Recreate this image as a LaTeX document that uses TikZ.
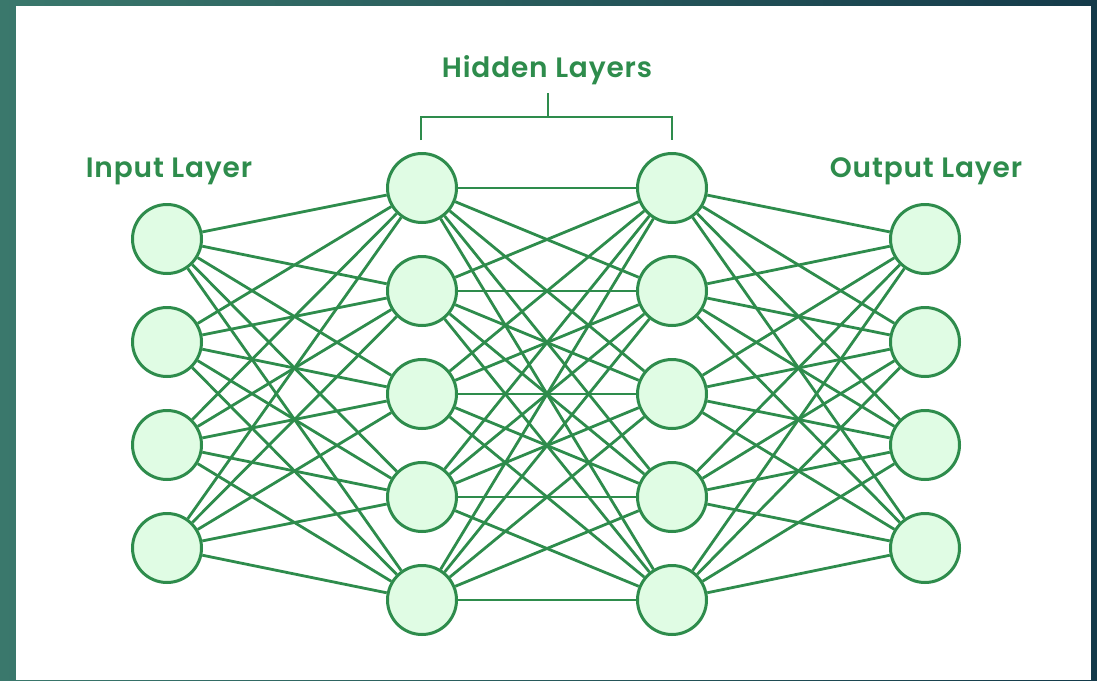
\documentclass[tikz,border=0pt]{standalone}
\usepackage{fontspec}
\setmainfont{Poppins}[UprightFont=* SemiBold,LetterSpace=3]
\definecolor{gline}{RGB}{46,140,76}
\definecolor{gfill}{RGB}{224,252,228}
\definecolor{bgL}{RGB}{58,120,108}
\definecolor{bgR}{RGB}{20,58,74}
\tikzset{
  neuron/.style={circle,draw=gline,fill=gfill,line width=3pt,minimum size=69pt,inner sep=0pt},
  link/.style={draw=gline,line width=2.8pt},
  lbl/.style={text=gline,font=\fontsize{28}{32}\selectfont,inner sep=0pt,anchor=base}
}
\begin{document}
\begin{tikzpicture}[x=1pt,y=-1pt]
\useasboundingbox (0,0) rectangle (1097,680);
\shade[left color=bgL,right color=bgR] (0,0) rectangle (1097,680);
\fill[white] (16,6) rectangle (1091,680);
% nodes
\foreach \k/\y in {1/239,2/342,3/445,4/548}{
  \node[neuron] (i\k) at (167,\y) {};
  \node[neuron] (o\k) at (925,\y) {};
}
\foreach \k/\y in {1/188,2/291,3/394,4/497,5/600}{
  \node[neuron] (h\k) at (422,\y) {};
  \node[neuron] (g\k) at (672,\y) {};
}
% links
\foreach \a in {1,...,4}{\foreach \b in {1,...,5}{\draw[link] (i\a) -- (h\b);}}
\foreach \a in {1,...,5}{\foreach \b in {1,...,5}{\draw[link] (h\a) -- (g\b);}}
\foreach \a in {1,...,5}{\foreach \b in {1,...,4}{\draw[link] (g\a) -- (o\b);}}
% labels
\node[lbl] (tin) at (169,177) {Input Layer};
\node[lbl] (tout) at (926,177) {Output Layer};
\node[lbl] (thid) at (547,77) {Hidden Layers};
% bracket
\coordinate (bt) at (548,93);
\coordinate (bm) at (548,117);
\coordinate (bl) at (421,117);
\coordinate (br) at (672,117);
\coordinate (bll) at (421,140);
\coordinate (brr) at (672,140);
\draw[link] (bt) -- (bm);
\draw[link] (bll) -- (bl) -- (br) -- (brr);
\end{tikzpicture}
\end{document}
